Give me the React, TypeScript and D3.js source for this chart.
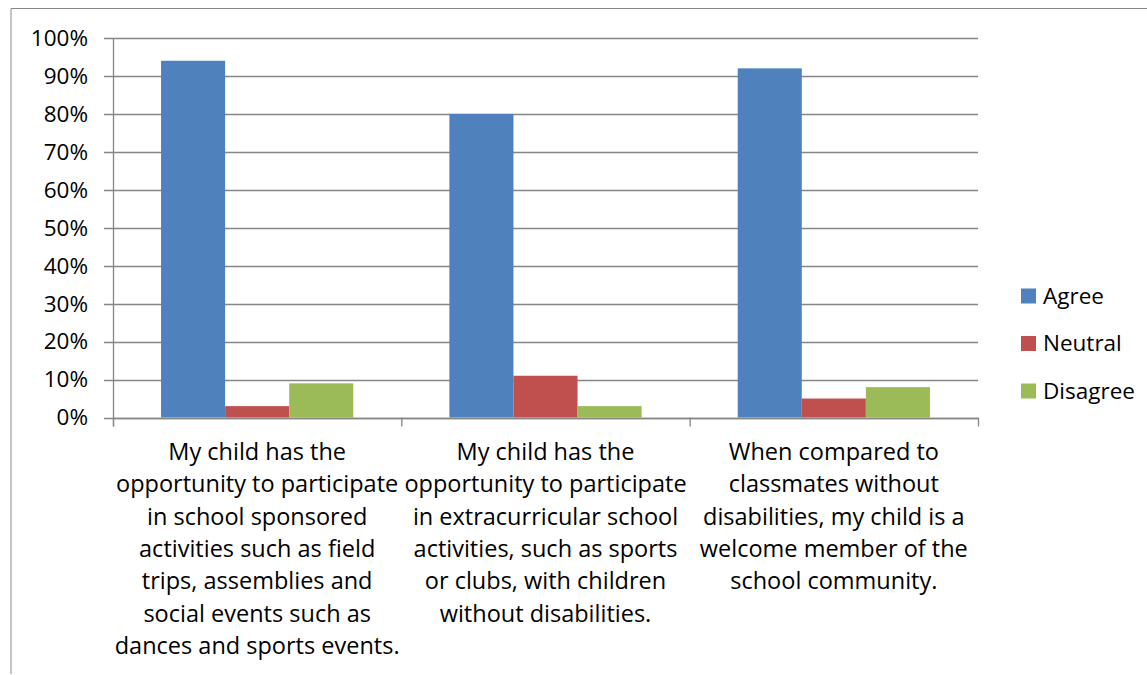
import React from "react";
import * as d3 from "d3";

const categories = ["c1", "c2", "c3"];
const categoryLines = [
  ["My child has the", "opportunity to participate", "in school sponsored", "activities such as field", "trips, assemblies and", "social events such as", "dances and sports events."],
  ["My child has the", "opportunity to participate", "in extracurricular school", "activities, such as sports", "or clubs, with children", "without disabilities."],
  ["When compared to", "classmates without", "disabilities, my child is a", "welcome member of the", "school community."],
];
const seriesNames = ["Agree", "Neutral", "Disagree"];
const agree = [0.94, 0.8, 0.92];
const neutral = [0.03, 0.11, 0.05];
const disagree = [0.09, 0.03, 0.08];
const seriesColors = ["#4F81BD", "#C0504D", "#9BBB59"];
const yTicks = [0, 0.1, 0.2, 0.3, 0.4, 0.5, 0.6, 0.7, 0.8, 0.9, 1.0];

const W = 1147;
const H = 675;
const left = 113;
const right = 978;
const top = 38;
const bottom = 417.5;
const font = "'Open Sans', sans-serif";

export default function App() {
  const values = [agree, neutral, disagree];
  const x = d3.scaleBand<string>().domain(categories).range([left, right]).paddingInner(0).paddingOuter(0);
  const inner = d3
    .scaleBand<string>()
    .domain(seriesNames)
    .range([0, x.bandwidth()])
    .paddingInner(0)
    .paddingOuter(0.75);
  const y = d3.scaleLinear().domain([0, 1]).range([bottom, top]);
  const pct = d3.format(".0%");
  const grid = "#868686";

  return (
    <svg width={W} height={H} style={{ position: "absolute", left: 0, top: 0, background: "#fff" }}>
      <line x1={11} y1={8.5} x2={W} y2={8.5} stroke={grid} strokeWidth={1} />
      <line x1={11} y1={8.5} x2={11} y2={674} stroke={grid} strokeWidth={1} />
      {yTicks.map((t) => (
        <g key={t}>
          <line x1={104} x2={right} y1={Math.round(y(t)) + 0.5} y2={Math.round(y(t)) + 0.5} stroke={grid} strokeWidth={1.3} />
          <text x={88} y={y(t)} dy="0.35em" textAnchor="end" fontSize={22.5} fontFamily={font} fill="#000">
            {pct(t)}
          </text>
        </g>
      ))}
      {categories.map((c, i) =>
        seriesNames.map((s, j) => {
          const v = values[j][i];
          const x0 = (x(c) as number) + (inner(s) as number);
          return (
            <rect key={c + s} x={x0} y={y(v)} width={inner.bandwidth()} height={y(0) - y(v)} fill={seriesColors[j]} />
          );
        })
      )}
      <line x1={left + 0.5} x2={left + 0.5} y1={top} y2={bottom + 9} stroke={grid} strokeWidth={1.3} />
      <line x1={left} x2={right} y1={Math.round(y(0)) + 0.5} y2={Math.round(y(0)) + 0.5} stroke={grid} strokeWidth={1.3} />
      {[...categories.map((c) => x(c) as number), right].map((p, i) => (
        <line key={i} x1={p + 0.5} x2={p + 0.5} y1={bottom} y2={bottom + 9} stroke={grid} strokeWidth={1.3} />
      ))}
      {categories.map((c, i) => (
        <text key={c} textAnchor="middle" fontSize={23.5} fontFamily={font} fill="#000">
          {categoryLines[i].map((l, k) => (
            <tspan key={k} x={(x(c) as number) + x.bandwidth() / 2} y={460 + k * 32.3}>
              {l}
            </tspan>
          ))}
        </text>
      ))}
      {seriesNames.map((s, j) => (
        <g key={s} transform={`translate(1021, ${296 + j * 47.5})`}>
          <rect x={0} y={-7.5} width={15} height={15} fill={seriesColors[j]} />
          <text x={22} y={0} dy="0.35em" fontSize={22.5} fontFamily={font} fill="#000">
            {s}
          </text>
        </g>
      ))}
    </svg>
  );
}
